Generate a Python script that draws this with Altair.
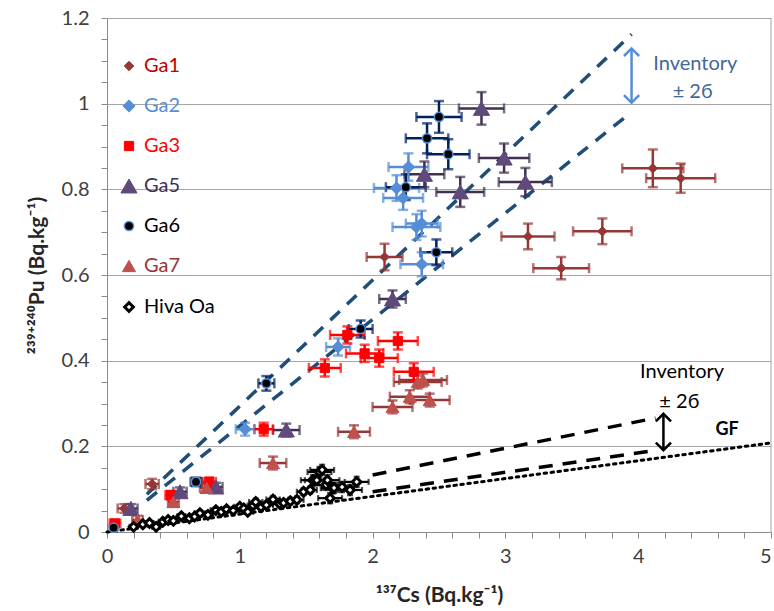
import altair as alt
import pandas as pd

# ---------------- data ----------------
series_names = ["Ga1", "Ga2", "Ga3", "Ga5", "Ga6", "Ga7", "Hiva Oa"]

ga1_x = [0.13, 0.34, 2.09, 3.17, 3.42, 3.73, 4.11, 4.32]
ga1_y = [0.055, 0.112, 0.642, 0.690, 0.616, 0.702, 0.849, 0.826]
ga1_xe = [0.05, 0.05, 0.135, 0.20, 0.21, 0.22, 0.23, 0.26]
ga1_ye = [0.010, 0.012, 0.031, 0.030, 0.026, 0.030, 0.044, 0.034]

ga2_x = [1.04, 1.74, 2.27, 2.18, 2.23, 2.33, 2.37, 2.37]
ga2_y = [0.240, 0.432, 0.852, 0.803, 0.780, 0.712, 0.720, 0.625]
ga2_xe = [0.07, 0.09, 0.15, 0.17, 0.15, 0.18, 0.12, 0.16]
ga2_ye = [0.015, 0.020, 0.032, 0.030, 0.028, 0.030, 0.030, 0.028]

ga3_x = [0.06, 0.48, 0.77, 1.18, 1.64, 1.81, 1.94, 2.05, 2.19, 2.31]
ga3_y = [0.020, 0.086, 0.117, 0.240, 0.383, 0.460, 0.417, 0.406, 0.446, 0.374]
ga3_xe = [0.04, 0.04, 0.05, 0.07, 0.12, 0.13, 0.14, 0.14, 0.15, 0.15]
ga3_ye = [0.008, 0.010, 0.010, 0.015, 0.020, 0.020, 0.020, 0.020, 0.020, 0.020]

ga5_x = [0.18, 0.55, 0.82, 1.35, 2.15, 2.39, 2.66, 2.82, 2.99, 3.15]
ga5_y = [0.055, 0.094, 0.105, 0.238, 0.544, 0.835, 0.794, 0.989, 0.873, 0.817]
ga5_xe = [0.05, 0.05, 0.05, 0.10, 0.10, 0.15, 0.18, 0.17, 0.19, 0.20]
ga5_ye = [0.010, 0.010, 0.010, 0.015, 0.020, 0.030, 0.035, 0.038, 0.034, 0.033]

ga6_x = [0.05, 0.67, 1.20, 1.91, 2.25, 2.41, 2.48, 2.50, 2.57]
ga6_y = [0.010, 0.117, 0.347, 0.474, 0.805, 0.919, 0.653, 0.969, 0.882]
ga6_xe = [0.02, 0.04, 0.06, 0.09, 0.15, 0.16, 0.12, 0.17, 0.16]
ga6_ye = [0.005, 0.010, 0.017, 0.020, 0.030, 0.035, 0.030, 0.037, 0.035]

ga7_x = [0.23, 0.50, 0.75, 1.25, 1.86, 2.15, 2.28, 2.43, 2.34, 2.38]
ga7_y = [0.028, 0.070, 0.103, 0.161, 0.234, 0.292, 0.316, 0.308, 0.350, 0.355]
ga7_xe = [0.04, 0.04, 0.05, 0.10, 0.12, 0.15, 0.15, 0.15, 0.18, 0.18]
ga7_ye = [0.010, 0.010, 0.010, 0.015, 0.015, 0.015, 0.015, 0.015, 0.015, 0.015]

hiva_x = [0.20, 0.27, 0.32, 0.37, 0.42, 0.46, 0.50, 0.56, 0.62, 0.66,
          0.70, 0.76, 0.82, 0.86, 0.90, 0.95, 1.00, 1.03, 1.06, 1.10,
          1.12, 1.16, 1.20, 1.25, 1.30, 1.33, 1.38, 1.43, 1.48, 1.53,
          1.55, 1.58, 1.60, 1.62, 1.65, 1.66, 1.68, 1.70, 1.71, 1.77,
          1.83, 1.88]
hiva_y = [0.012, 0.018, 0.021, 0.012, 0.024, 0.028, 0.026, 0.037, 0.032, 0.036,
          0.044, 0.040, 0.051, 0.047, 0.053, 0.050, 0.059, 0.055, 0.047, 0.062,
          0.070, 0.058, 0.063, 0.076, 0.066, 0.068, 0.072, 0.075, 0.094, 0.098,
          0.121, 0.121, 0.140, 0.145, 0.110, 0.121, 0.079, 0.102, 0.103, 0.105,
          0.098, 0.117]
hiva_xe = [0.03] * 10 + [0.04] * 10 + [0.05] * 10 + [0.09] * 12
hiva_ye = [0.004] * 10 + [0.006] * 10 + [0.008] * 10 + [0.012] * 12

# marker styling per series
marker_fill = ["#953735", "#558ED5", "#FF0000", "#604A7B", "#000000", "#C0504D", "#FFFFFF"]
marker_stroke = ["#953735", "#558ED5", "#FF0000", "#604A7B", "#558ED5", "#C0504D", "#000000"]
marker_shape = ["diamond", "diamond", "square", "triangle-up", "circle", "triangle-up", "diamond"]
marker_size = [90, 150, 85, 260, 85, 170, 75]
marker_stroke_w = [1, 1, 1, 1, 1.5, 1, 3]
bar_color = ["#953735", "#558ED5", "#FF0000", "#403152", "#002060", "#953735", "#000000"]
label_color = ["#C00000", "#558ED5", "#FF0000", "#403152", "#000000", "#953735", "#000000"]

# reference lines (inventory bands and GF line)
blue_line_id = ["up", "up", "low", "low"]
blue_line_x = [0.30, 3.95, 0.30, 3.94]
blue_line_y = [0.088, 1.162, 0.074, 0.978]

black_line_id = ["up", "up", "low", "low"]
black_line_x = [2.00, 4.13, 2.00, 4.14]
black_line_y = [0.133, 0.266, 0.094, 0.191]

gf_x = [0.0, 5.0]
gf_y = [0.0, 0.208]

# double arrows (x, bottom, top)
arrow_x = [3.95, 4.19]
arrow_y0 = [1.002, 0.191]
arrow_y1 = [1.129, 0.276]
arrow_color = ["#558ED5", "#000000"]

# annotations
ann_text = ["Inventory", "± 2б", "Inventory", "± 2б"]
ann_x = [4.43, 4.41, 4.33, 4.31]
ann_y = [1.092, 1.027, 0.373, 0.303]
ann_color = ["#44679A", "#44679A", "#000000", "#000000"]
gf_label = ["GF"]
gf_label_x = [4.67]
gf_label_y = [0.238]

# ---------------- tables ----------------
rows = []
for name, xs_, ys_, xe_, ye_ in [
    ("Ga1", ga1_x, ga1_y, ga1_xe, ga1_ye),
    ("Ga2", ga2_x, ga2_y, ga2_xe, ga2_ye),
    ("Ga3", ga3_x, ga3_y, ga3_xe, ga3_ye),
    ("Ga5", ga5_x, ga5_y, ga5_xe, ga5_ye),
    ("Ga6", ga6_x, ga6_y, ga6_xe, ga6_ye),
    ("Ga7", ga7_x, ga7_y, ga7_xe, ga7_ye),
    ("Hiva Oa", hiva_x, hiva_y, hiva_xe, hiva_ye),
]:
    for a, b, c, d in zip(xs_, ys_, xe_, ye_):
        rows.append({"series": name, "cs": a, "pu": b, "cs_err": c, "pu_err": d})
pts = pd.DataFrame(rows)
ga_pts = pts[pts.series != "Hiva Oa"]
hiva_pts = pts[pts.series == "Hiva Oa"]

blue_df = pd.DataFrame({"id": blue_line_id, "cs": blue_line_x, "pu": blue_line_y})
black_df = pd.DataFrame({"id": black_line_id, "cs": black_line_x, "pu": black_line_y})
gf_df = pd.DataFrame({"cs": gf_x, "pu": gf_y})
arrow_df = pd.DataFrame({"cs": arrow_x, "y0": arrow_y0, "y1": arrow_y1, "col": arrow_color})
ann_df = pd.DataFrame({"t": ann_text, "cs": ann_x, "pu": ann_y, "col": ann_color})
gf_lab_df = pd.DataFrame({"t": gf_label, "cs": gf_label_x, "pu": gf_label_y})


def lookup_expr(key, names, values, default):
    """Vega expression mapping a series name to a per-series style value."""
    parts = [f"{key} == '{n}' ? {v!r}" for n, v in zip(names, values)]
    return " : ".join(parts) + f" : {default!r}"


# ---------------- scales & axes ----------------
FONT = "Lato, DejaVu Sans, sans-serif"
xscale = alt.Scale(domain=[0, 5], nice=False, zero=True)
yscale = alt.Scale(domain=[0, 1.2], nice=False, zero=True)

x_ticks = [round(i * 0.2, 2) for i in range(26)]
y_ticks = [round(i * 0.05, 2) for i in range(25)]

x_axis = alt.Axis(
    values=x_ticks,
    labelExpr="abs(datum.value - round(datum.value)) < 1e-6 ? format(datum.value, 'd') : ''",
    labelOverlap=False, labelFlush=False,
    labelAlign={"condition": {"test": "datum.value > 4.9", "value": "right"}, "value": "center"},
    grid=False, tickSize=6, tickColor="#8c8c8c", domainColor="#8c8c8c",
    labelFont=FONT, labelFontSize=20, labelColor="#404040", labelPadding=8,
    title="¹³⁷Cs (Bq.kg⁻¹)", titleFont=FONT, titleFontSize=21, titleFontWeight="bold",
    titleColor="#262626", titlePadding=18,
)
y_axis = alt.Axis(
    values=y_ticks,
    labelExpr="abs(datum.value * 5 - round(datum.value * 5)) < 1e-6 ? format(datum.value, '~g') : ''",
    labelOverlap=False, labelFlush=False,
    grid=True, gridColor="#a6a6a6", gridWidth=1,
    gridOpacity={"condition": {"test": "abs(datum.value * 5 - round(datum.value * 5)) < 1e-6", "value": 1}, "value": 0},
    tickSize=6, tickColor="#8c8c8c", domainColor="#8c8c8c",
    labelFont=FONT, labelFontSize=20, labelColor="#404040", labelPadding=12,
    title="²³⁹⁺²⁴⁰Pu (Bq.kg⁻¹)", titleFont=FONT, titleFontSize=21, titleFontWeight="bold",
    titleColor="#262626", titlePadding=14,
)


def X(field):
    return alt.X(field, type="quantitative", scale=xscale, axis=x_axis)


def Y(field):
    return alt.Y(field, type="quantitative", scale=yscale, axis=y_axis)


legend = alt.Legend(
    orient="none", legendX=12, legendY=38, title=None,
    labelFont=FONT, labelFontSize=20,
    labelColor={"expr": lookup_expr("datum.label", series_names, label_color, "#000000")},
    symbolSize={"expr": lookup_expr("datum.value", series_names, marker_size, 80)},
    symbolStrokeWidth={"expr": lookup_expr("datum.value", series_names, marker_stroke_w, 1)},
    rowPadding=20, labelOffset=5, padding=0, symbolOpacity=1,
)

# ---------------- layers ----------------
bar_scale = alt.Scale(domain=series_names, range=bar_color)


def xbars(df, thick, cap):
    return alt.Chart(df).mark_errorbar(
        ticks={"size": cap, "thickness": thick}, thickness=thick
    ).encode(
        x=X("cs"),
        xError="cs_err:Q",
        y=Y("pu"),
        color=alt.Color("series:N", scale=bar_scale, legend=None),
    )


def ybars(df, thick, cap):
    return alt.Chart(df).mark_errorbar(
        ticks={"size": cap, "thickness": thick}, thickness=thick
    ).encode(
        x=X("cs"),
        y=Y("pu"),
        yError="pu_err:Q",
        color=alt.Color("series:N", scale=bar_scale, legend=None),
    )


points = alt.Chart(pts).mark_point(filled=True, opacity=1).transform_calculate(
    msize=lookup_expr("datum.series", series_names, marker_size, 80),
    mstroke=lookup_expr("datum.series", series_names, marker_stroke_w, 1),
).encode(
    x=X("cs"),
    y=Y("pu"),
    fill=alt.Fill("series:N", scale=alt.Scale(domain=series_names, range=marker_fill), legend=legend),
    stroke=alt.Stroke("series:N", scale=alt.Scale(domain=series_names, range=marker_stroke), legend=legend),
    shape=alt.Shape("series:N", scale=alt.Scale(domain=series_names, range=marker_shape), legend=legend),
    size=alt.Size("msize:Q", scale=None),
    strokeWidth=alt.StrokeWidth("mstroke:Q", scale=None),
)

blue_lines = alt.Chart(blue_df).mark_line(
    color="#1F4E79", strokeWidth=3.5, strokeDash=[13, 10]
).encode(x=X("cs"), y=Y("pu"), detail="id:N")

black_lines = alt.Chart(black_df).mark_line(
    color="#000000", strokeWidth=3.5, strokeDash=[14, 10]
).encode(x=X("cs"), y=Y("pu"), detail="id:N")

gf_line = alt.Chart(gf_df).mark_line(
    color="#000000", strokeWidth=3, strokeDash=[2.5, 4.5], strokeCap="round"
).encode(x=X("cs"), y=Y("pu"))

arrow_shaft = alt.Chart(arrow_df).mark_rule(strokeWidth=2.5).encode(
    x=X("cs"), y=Y("y0"), y2="y1:Q",
    color=alt.Color("col:N", scale=None),
)
arrow_top = alt.Chart(arrow_df).mark_point(
    shape="M -1 1 L 0 0 L 1 1", filled=False, size=230, strokeWidth=2.5, opacity=1
).encode(x=X("cs"), y=Y("y1"), stroke=alt.Stroke("col:N", scale=None))

arrow_bot = alt.Chart(arrow_df).mark_point(
    shape="M -1 -1 L 0 0 L 1 -1", filled=False, size=230, strokeWidth=2.5, opacity=1
).encode(x=X("cs"), y=Y("y0"), stroke=alt.Stroke("col:N", scale=None))

ann = alt.Chart(ann_df).mark_text(font=FONT, fontSize=20, align="center", baseline="middle").encode(
    x=X("cs"), y=Y("pu"), text="t:N", color=alt.Color("col:N", scale=None),
)
gf_text = alt.Chart(gf_lab_df).mark_text(
    font=FONT, fontSize=18, fontWeight="bold", align="center", baseline="middle", color="#000000"
).encode(x=X("cs"), y=Y("pu"), text="t:N")

right_edge = alt.Chart(pd.DataFrame({"cs": [5.0]})).mark_rule(color="#a6a6a6", strokeWidth=1).encode(
    x=X("cs")
)

chart = alt.layer(
    right_edge,
    gf_line, black_lines, blue_lines,
    xbars(hiva_pts, 2.2, 6), ybars(hiva_pts, 2.2, 6),
    xbars(ga_pts, 2.5, 10), ybars(ga_pts, 2.5, 10),
    points,
    arrow_shaft, arrow_top, arrow_bot,
    ann, gf_text,
).resolve_scale(color="independent").properties(
    width=664, height=514,
    padding={"left": 107, "top": 18, "right": 3, "bottom": 79},
    autosize=alt.AutoSizeParams(type="none"),
    background="white",
).configure_view(stroke=None)

chart.save("out.html", embed_options={"renderer": "svg", "actions": False})
